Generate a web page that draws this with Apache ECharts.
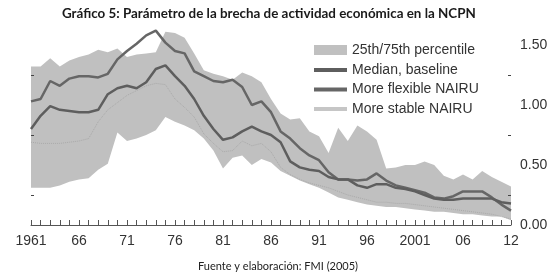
<!DOCTYPE html>
<html>
<head>
<meta charset="utf-8">
<script src="https://cdn.jsdelivr.net/npm/echarts@6/dist/echarts.min.js"></script>
<style>
  html, body { margin: 0; padding: 0; background: #fff; }
  #chart { width: 558px; height: 279px; }
</style>
</head>
<body>
<div id="chart"></div>
<script>
// annual points, first label 1961, last tick labelled "12"
var years = [];
for (var y = 1961; y <= 2011; y++) years.push(String(y));
var xLabels = ['1961', '66', '71', '76', '81', '86', '91', '96', '2001', '06', '12'];

var bandLow = [0.31, 0.31, 0.31, 0.33, 0.36, 0.38, 0.39, 0.46, 0.51, 0.77,
  0.70, 0.72, 0.75, 0.79, 0.90, 0.86, 0.83, 0.79, 0.72, 0.62,
  0.47, 0.56, 0.58, 0.50, 0.55, 0.52, 0.45, 0.41, 0.37, 0.34,
  0.31, 0.27, 0.23, 0.21, 0.19, 0.17, 0.16, 0.15, 0.15, 0.14,
  0.13, 0.12, 0.11, 0.11, 0.10, 0.09, 0.09, 0.08, 0.07, 0.07, 0.04];
var bandHigh = [1.32, 1.32, 1.39, 1.32, 1.37, 1.40, 1.42, 1.46, 1.44, 1.47,
  1.40, 1.42, 1.43, 1.44, 1.61, 1.60, 1.56, 1.43, 1.29, 1.26,
  1.24, 1.21, 1.27, 1.24, 1.19, 1.05, 0.93, 0.88, 0.89, 0.78,
  0.74, 0.60, 0.81, 0.70, 0.83, 0.78, 0.71, 0.47, 0.48, 0.50,
  0.50, 0.53, 0.50, 0.41, 0.38, 0.42, 0.38, 0.45, 0.40, 0.36, 0.32];
var median = [0.80, 0.91, 0.99, 0.96, 0.95, 0.94, 0.94, 0.96, 1.09, 1.14,
  1.16, 1.14, 1.19, 1.30, 1.33, 1.24, 1.16, 1.05, 0.91, 0.80,
  0.71, 0.73, 0.78, 0.82, 0.78, 0.75, 0.69, 0.53, 0.48, 0.46,
  0.45, 0.40, 0.38, 0.38, 0.33, 0.31, 0.34, 0.34, 0.31, 0.30,
  0.28, 0.25, 0.22, 0.21, 0.21, 0.22, 0.22, 0.22, 0.22, 0.19, 0.18];
var flexible = [1.03, 1.05, 1.20, 1.16, 1.22, 1.24, 1.24, 1.23, 1.26, 1.38,
  1.45, 1.51, 1.58, 1.62, 1.52, 1.45, 1.43, 1.28, 1.24, 1.20,
  1.19, 1.21, 1.15, 1.00, 1.03, 0.94, 0.78, 0.72, 0.64, 0.58,
  0.54, 0.44, 0.38, 0.38, 0.37, 0.38, 0.43, 0.37, 0.33, 0.31,
  0.29, 0.27, 0.23, 0.22, 0.24, 0.28, 0.28, 0.28, 0.23, 0.17, 0.12];
var stable = [0.69, 0.68, 0.68, 0.68, 0.69, 0.70, 0.72, 0.86, 0.96, 1.02,
  1.08, 1.12, 1.16, 1.18, 1.17, 1.05, 0.98, 0.90, 0.76, 0.68,
  0.61, 0.62, 0.70, 0.66, 0.68, 0.61, 0.48, 0.42, 0.38, 0.35,
  0.33, 0.31, 0.28, 0.25, 0.23, 0.21, 0.19, 0.19, 0.18, 0.18,
  0.17, 0.16, 0.15, 0.14, 0.13, 0.12, 0.11, 0.10, 0.09, 0.07, 0.05];

var bandSpread = bandHigh.map(function (v, i) { return +(v - bandLow[i]).toFixed(3); });

var NARROW = '"Liberation Sans Narrow", "Arial Narrow", "Liberation Sans", sans-serif';
var BAND = '#c0c0c0';

var chart = echarts.init(document.getElementById('chart'));
chart.setOption({
  animation: false,
  backgroundColor: '#fff',
  title: [{
    text: 'Gráfico 5: Parámetro de la brecha de actividad económica en la NCPN',
    left: 57, top: 2,
    textStyle: { fontFamily: 'Lato', fontWeight: 'bold', fontSize: 13.4, color: '#1a1a1a' }
  }, {
    text: 'Fuente y elaboración: FMI (2005)',
    left: 193, top: 256,
    textStyle: { fontFamily: 'Lato', fontWeight: 'normal', fontSize: 11, color: '#222' }
  }],
  grid: { left: 31, right: 47, top: 45, bottom: 54 },
  legend: [{
    left: 309, top: 38,
    itemWidth: 33, itemHeight: 10,
    textStyle: { fontFamily: NARROW, fontSize: 14, color: '#333' },
    data: [{ name: '25th/75th percentile', icon: 'rect', itemStyle: { color: BAND } }]
  }, {
    left: 309, top: 58, orient: 'vertical',
    itemWidth: 33, itemHeight: 4, itemGap: 5.5,
    textStyle: { fontFamily: NARROW, fontSize: 14, color: '#333' },
    data: [
      { name: 'Median, baseline', icon: 'rect', itemStyle: { color: '#5e5e5e' } },
      { name: 'More flexible NAIRU', icon: 'rect', itemStyle: { color: '#666' } },
      { name: 'More stable NAIRU', icon: 'rect', itemStyle: { color: '#c6c6c6' } }
    ]
  }],
  xAxis: {
    type: 'category', data: years, boundaryGap: false, z: 5,
    axisLine: { lineStyle: { color: '#555', width: 1 } },
    axisTick: { inside: true, length: 5, interval: 0, lineStyle: { color: '#555' } },
    axisLabel: {
      interval: function (idx) { return idx % 5 === 0; },
      formatter: function (v, idx) { return xLabels[idx / 5]; },
      margin: 9, fontFamily: NARROW, fontSize: 14, color: '#333'
    },
    splitLine: { show: false }
  },
  yAxis: [{
    type: 'value', position: 'right', min: 0, max: 1.5, interval: 0.5, z: 5,
    axisLine: { show: false },
    axisTick: { inside: true, length: 6, lineStyle: { color: '#444' } },
    minorTick: { show: true, splitNumber: 2, length: 3, lineStyle: { color: '#444' } },
    axisLabel: {
      margin: 9, fontFamily: NARROW, fontSize: 14, color: '#333',
      formatter: function (v) { return v.toFixed(2); }
    },
    splitLine: { show: false }
  }, {
    type: 'value', position: 'left', min: 0, max: 1.5, interval: 0.5, z: 5,
    axisLine: { show: false },
    axisTick: { inside: true, length: 6, lineStyle: { color: '#444' } },
    minorTick: { show: true, splitNumber: 2, length: 3, lineStyle: { color: '#444' } },
    axisLabel: { show: false },
    splitLine: { show: false }
  }],
  series: [{
    name: 'low', type: 'line', stack: 'band', data: bandLow,
    symbol: 'none', clip: false, silent: true,
    lineStyle: { width: 0, opacity: 0 }
  }, {
    name: '25th/75th percentile', type: 'line', stack: 'band', data: bandSpread,
    symbol: 'none', clip: false,
    itemStyle: { color: BAND },
    lineStyle: { width: 0, opacity: 0 },
    areaStyle: { color: BAND, opacity: 1 }
  }, {
    name: 'More stable NAIRU', type: 'line', data: stable,
    symbol: 'none', clip: false,
    itemStyle: { color: '#c6c6c6' },
    lineStyle: { color: '#a9a9a9', width: 1, type: 'dotted' }
  }, {
    name: 'More flexible NAIRU', type: 'line', data: flexible,
    symbol: 'none', clip: false,
    itemStyle: { color: '#666' },
    lineStyle: { color: '#666', width: 2.5 }
  }, {
    name: 'Median, baseline', type: 'line', data: median,
    symbol: 'none', clip: false,
    itemStyle: { color: '#5e5e5e' },
    lineStyle: { color: '#5e5e5e', width: 2.5 }
  }]
});
</script>
</body>
</html>
